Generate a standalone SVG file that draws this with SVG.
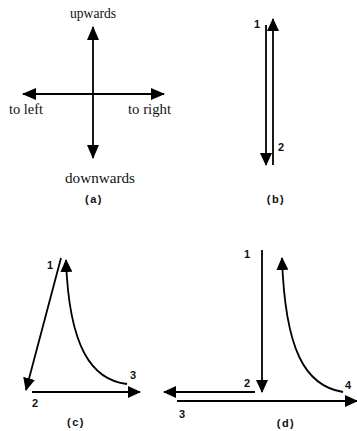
<svg xmlns="http://www.w3.org/2000/svg" width="357" height="431" viewBox="0 0 357 431">
<style>
.ln{stroke:#000;stroke-width:1.8;fill:none}
.lbl{font-family:"Liberation Serif","Times New Roman",serif;font-size:14px;fill:#111}
.num{font-family:"Liberation Sans",Arial,sans-serif;font-size:11px;font-weight:bold;fill:#111}
.cap{font-family:"Liberation Sans",Arial,sans-serif;font-size:11px;font-weight:bold;letter-spacing:1.5px;fill:#111;text-anchor:middle}
</style>
<defs>
<marker id="ah" markerUnits="userSpaceOnUse" markerWidth="14" markerHeight="12" refX="13" refY="6" orient="auto">
<path d="M0,0 L14,6 L0,12 z" fill="#000"/>
</marker>
<marker id="ahs" markerUnits="userSpaceOnUse" markerWidth="13" markerHeight="12" refX="12" refY="6" orient="auto">
<path d="M0,0 L13,6 L0,12 z" fill="#000"/>
</marker>
</defs>
<rect width="357" height="431" fill="#fff"/>
<g id="connectors">
<line class="ln" x1="93" y1="94" x2="93" y2="27" marker-end="url(#ah)"/>
<line class="ln" x1="93" y1="94" x2="93" y2="158" marker-end="url(#ah)"/>
<line class="ln" x1="93" y1="94" x2="23" y2="94" marker-end="url(#ah)"/>
<line class="ln" x1="93" y1="94" x2="164" y2="94" marker-end="url(#ah)"/>
<line class="ln" x1="266" y1="25" x2="266" y2="165" marker-end="url(#ahs)"/>
<line class="ln" x1="273" y1="165" x2="273" y2="19" marker-end="url(#ahs)"/>
<line class="ln" x1="61" y1="258" x2="26" y2="390" marker-end="url(#ahs)"/>
<path class="ln" d="M127,384 C92,380 69,348 66,260" marker-end="url(#ahs)"/>
<line class="ln" x1="32" y1="392" x2="140" y2="392" marker-end="url(#ahs)"/>
<line class="ln" x1="262" y1="250" x2="262" y2="392" marker-end="url(#ahs)"/>
<path class="ln" d="M343,392 C305,386 285,350 282,258" marker-end="url(#ahs)"/>
<line class="ln" x1="255" y1="392" x2="164" y2="392" marker-end="url(#ahs)"/>
<line class="ln" x1="177" y1="401" x2="357" y2="401" marker-end="url(#ahs)"/>
</g>
<g id="panel-a">
<text class="lbl" x="93" y="18" text-anchor="middle" textLength="46" lengthAdjust="spacingAndGlyphs">upwards</text>
<text class="lbl" x="9" y="114" textLength="34" lengthAdjust="spacingAndGlyphs">to left</text>
<text class="lbl" x="128" y="114" textLength="43" lengthAdjust="spacingAndGlyphs">to right</text>
<text class="lbl" x="100" y="183" text-anchor="middle" textLength="70" lengthAdjust="spacingAndGlyphs">downwards</text>
<text class="cap" x="94" y="203">(a)</text>
</g>
<g id="panel-b">
<text class="num" x="257" y="28" text-anchor="middle">1</text>
<text class="num" x="281" y="151" text-anchor="middle">2</text>
<text class="cap" x="276" y="203">(b)</text>
</g>
<g id="panel-c">
<text class="num" x="50" y="269" text-anchor="middle">1</text>
<text class="num" x="35" y="407" text-anchor="middle">2</text>
<text class="num" x="133" y="379" text-anchor="middle">3</text>
<text class="cap" x="76" y="426">(c)</text>
</g>
<g id="panel-d">
<text class="num" x="247" y="258" text-anchor="middle">1</text>
<text class="num" x="247" y="387" text-anchor="middle">2</text>
<text class="num" x="182" y="418" text-anchor="middle">3</text>
<text class="num" x="348" y="389" text-anchor="middle">4</text>
<text class="cap" x="286" y="427">(d)</text>
</g>
</svg>
